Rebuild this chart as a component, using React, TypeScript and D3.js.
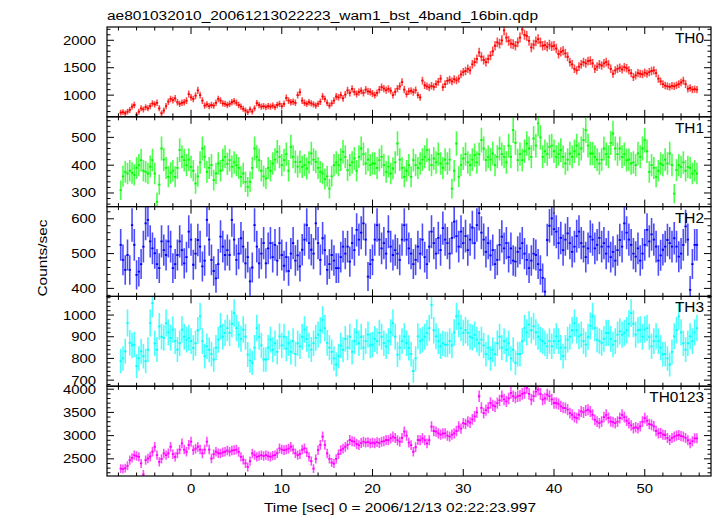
import React from 'react';
import * as d3 from 'd3';

// light curve bins: centre of first bin and bin width (sec)
const t0 = -7.75;
const binWidth = 0.25;

const th0 = [
  680, 690, 670, 700, 730, 790, 820, 640, 700, 760, 740, 780, 760, 800, 850, 830,
  860, 760, 670, 720, 800, 880, 930, 910, 940, 870, 840, 860, 870, 900, 1020, 960,
  930, 990, 1085, 1000, 900, 810, 830, 800, 820, 810, 860, 930, 900, 850, 840, 820,
  840, 870, 890, 860, 820, 790, 750, 720, 690, 740, 700, 760, 855, 820, 790, 800,
  780, 800, 790, 810, 780, 820, 840, 800, 840, 950, 900, 870, 880, 860, 1000, 1055,
  900, 860, 840, 870, 850, 830, 810, 840, 880, 975, 930, 860, 810, 850, 900, 975,
  960, 1000, 940, 1010, 1085, 1040, 1115, 1060, 1020, 1055, 1080, 1040, 1100, 1070, 1060, 1030,
  1000, 1040, 1100, 1145, 1120, 1090, 1115, 1080, 1000, 1060, 1120, 1160, 1236, 1100, 1020, 1070,
  1080, 1055, 1090, 1000, 960, 1266, 1180, 1160, 1140, 1170, 1150, 1200, 1240, 1300, 1145, 1200,
  1260, 1280, 1250, 1290, 1270, 1300, 1380, 1420, 1440, 1480, 1450, 1560, 1600, 1660, 1780, 1700,
  1640, 1600, 1660, 1720, 1800, 1900, 1960, 1940, 2000, 2180, 2050, 1990, 1940, 1930, 1900, 1960,
  2050, 2200, 2100, 2080, 1990, 1870, 1920, 1980, 2020, 1960, 1900, 1910, 1880, 1920, 1890, 1900,
  1850, 1750, 1790, 1810, 1760, 1700, 1600, 1560, 1480, 1450, 1520, 1560, 1600, 1580, 1620, 1630,
  1580, 1480, 1520, 1560, 1540, 1580, 1600, 1560, 1480, 1390, 1450, 1480, 1500, 1470, 1510, 1490,
  1450, 1400, 1330, 1360, 1400, 1390, 1380, 1410, 1390, 1420, 1440, 1450, 1400, 1300, 1250, 1200,
  1175, 1160, 1150, 1170, 1160, 1180, 1200, 1230, 1266, 1200, 1115, 1130, 1100, 1110, 1100,
];

const th1 = [
  310, 360, 376, 370, 380, 372, 365, 390, 400, 418, 380, 376, 370, 395, 418, 370,
  268, 330, 460, 420, 390, 358, 372, 380, 358, 390, 454, 430, 418, 400, 420, 394,
  380, 334, 360, 410, 460, 430, 376, 390, 400, 346, 370, 406, 380, 418, 430, 405,
  418, 395, 410, 400, 390, 358, 370, 340, 322, 340, 390, 460, 430, 418, 380, 360,
  352, 390, 380, 406, 420, 448, 430, 400, 418, 440, 380, 466, 430, 412, 395, 412,
  394, 400, 388, 410, 442, 420, 412, 390, 376, 370, 350, 360, 316, 360, 400, 410,
  400, 420, 448, 430, 382, 400, 410, 424, 380, 430, 460, 440, 406, 420, 400, 406,
  406, 390, 418, 430, 400, 376, 395, 370, 388, 410, 478, 420, 390, 358, 380, 400,
  358, 418, 400, 390, 406, 420, 430, 454, 420, 400, 424, 410, 440, 406, 390, 420,
  406, 420, 316, 380, 478, 358, 400, 424, 440, 410, 400, 420, 436, 410, 440, 490,
  460, 418, 430, 420, 442, 400, 430, 460, 440, 430, 410, 470, 430, 526, 480, 418,
  440, 418, 450, 478, 460, 430, 496, 470, 550, 500, 430, 450, 440, 466, 470, 450,
  430, 440, 454, 430, 406, 420, 442, 430, 450, 470, 440, 460, 490, 526, 470, 442,
  442, 430, 420, 406, 420, 460, 440, 430, 480, 514, 460, 440, 460, 430, 440, 418,
  420, 406, 410, 400, 442, 430, 460, 490, 450, 376, 400, 390, 358, 380, 406, 400,
  420, 406, 442, 400, 298, 382, 400, 394, 410, 380, 394, 390, 370, 380, 370,
];

const th2 = [
  525, 482, 453, 496, 453, 582, 525, 439, 448, 470, 520, 587, 597, 535, 515, 501,
  470, 458, 535, 510, 496, 535, 520, 458, 470, 496, 535, 510, 472, 490, 563, 540,
  468, 500, 539, 520, 463, 480, 597, 540, 482, 450, 429, 470, 549, 520, 496, 510,
  496, 597, 540, 482, 500, 544, 520, 472, 490, 420, 460, 582, 520, 472, 500, 530,
  472, 515, 530, 490, 525, 480, 530, 496, 465, 490, 450, 500, 530, 480, 495, 463,
  511, 540, 582, 530, 511, 500, 587, 530, 482, 544, 510, 453, 470, 496, 480, 458,
  458, 490, 520, 500, 520, 477, 530, 510, 568, 540, 560, 587, 540, 434, 470, 482,
  540, 582, 540, 515, 530, 500, 563, 520, 496, 510, 500, 482, 540, 582, 540, 515,
  500, 470, 482, 520, 500, 540, 490, 470, 520, 563, 530, 500, 545, 510, 573, 540,
  530, 500, 545, 592, 550, 520, 563, 530, 550, 510, 540, 575, 530, 582, 616, 560,
  540, 505, 530, 495, 510, 470, 482, 525, 549, 515, 530, 490, 515, 480, 477, 505,
  515, 530, 500, 482, 458, 480, 500, 496, 470, 453, 430, 391, 539, 580, 601, 570,
  563, 530, 545, 510, 540, 558, 530, 505, 520, 550, 563, 530, 520, 490, 515, 549,
  540, 515, 525, 545, 520, 530, 500, 520, 490, 505, 480, 510, 539, 520, 587, 560,
  540, 525, 500, 491, 515, 480, 500, 525, 568, 535, 555, 540, 520, 480, 495, 511,
  520, 539, 530, 520, 544, 520, 491, 500, 525, 578, 540, 396, 470, 525, 525,
];

const th3 = [
  788, 800, 833, 963, 872, 860, 864, 765, 800, 833, 810, 788, 840, 963, 1055, 870,
  841, 948, 900, 895, 963, 920, 895, 933, 880, 841, 870, 933, 900, 887, 895, 880,
  849, 870, 930, 994, 880, 811, 856, 840, 820, 795, 850, 887, 948, 900, 918, 940,
  918, 960, 1009, 940, 910, 890, 933, 900, 818, 790, 780, 850, 940, 900, 860, 795,
  795, 850, 887, 840, 870, 830, 902, 860, 900, 845, 870, 830, 880, 820, 870, 856,
  900, 933, 890, 860, 841, 870, 895, 910, 930, 978, 940, 872, 850, 830, 800, 772,
  811, 860, 840, 890, 850, 900, 830, 880, 920, 870, 900, 850, 880, 910, 860, 864,
  890, 880, 918, 900, 870, 856, 880, 920, 963, 900, 818, 850, 880, 902, 870, 849,
  820, 742, 800, 902, 880, 887, 900, 918, 940, 1047, 930, 902, 880, 856, 870, 864,
  864, 880, 860, 920, 994, 960, 940, 918, 930, 918, 900, 895, 910, 887, 870, 887,
  860, 820, 850, 800, 840, 820, 870, 900, 850, 880, 840, 870, 800, 840, 780, 820,
  820, 880, 940, 920, 956, 930, 948, 920, 900, 887, 880, 870, 856, 880, 856, 880,
  902, 880, 850, 811, 850, 887, 900, 930, 963, 930, 902, 910, 880, 864, 900, 950,
  994, 940, 887, 880, 872, 890, 918, 918, 890, 864, 880, 910, 925, 910, 918, 930,
  960, 1009, 960, 910, 930, 933, 900, 933, 940, 900, 856, 880, 902, 880, 850, 820,
  820, 800, 772, 830, 902, 930, 994, 920, 870, 841, 870, 902, 880, 920, 940,
];

const th0123 = [
  2290, 2280, 2300, 2350, 2470, 2520, 2580, 2560, 2543, 2400, 2167, 2470, 2507, 2550, 2652, 2760,
  2580, 2435, 2500, 2616, 2580, 2620, 2760, 2600, 2543, 2616, 2700, 2833, 2700, 2652, 2800, 2870,
  2688, 2720, 2760, 2700, 2616, 2700, 2870, 2700, 2507, 2600, 2652, 2620, 2616, 2640, 2652, 2680,
  2652, 2680, 2688, 2700, 2650, 2543, 2480, 2400, 2326, 2450, 2616, 2580, 2543, 2560, 2580, 2560,
  2580, 2560, 2543, 2570, 2580, 2620, 2724, 2700, 2688, 2700, 2720, 2760, 2700, 2620, 2580, 2600,
  2700, 2724, 2640, 2543, 2450, 2290, 2500, 2688, 2800, 2978, 2800, 2616, 2500, 2420, 2398, 2500,
  2600, 2688, 2720, 2760, 2800, 2906, 2880, 2870, 2820, 2797, 2840, 2870, 2850, 2860, 2833, 2850,
  2833, 2860, 2840, 2870, 2880, 2906, 2900, 2940, 2978, 2950, 2900, 2870, 2950, 3087, 3000, 2850,
  2797, 2652, 2750, 2906, 2900, 2942, 2900, 2833, 2900, 3195, 3100, 3087, 3050, 3020, 3050, 3050,
  3000, 2978, 3020, 3050, 3100, 3195, 3150, 3268, 3250, 3304, 3280, 3350, 3413, 3500, 3848, 3600,
  3485, 3550, 3600, 3703, 3650, 3630, 3700, 3760, 3848, 3780, 3739, 3800, 3920, 3850, 3820, 3848,
  3860, 3900, 3920, 4030, 3900, 3775, 3850, 3950, 3992, 3900, 3775, 3800, 3884, 3850, 3780, 3703,
  3703, 3680, 3630, 3600, 3594, 3560, 3485, 3450, 3400, 3377, 3450, 3522, 3500, 3540, 3558, 3520,
  3450, 3340, 3300, 3268, 3300, 3400, 3449, 3380, 3304, 3290, 3268, 3300, 3380, 3449, 3400, 3320,
  3268, 3220, 3159, 3180, 3159, 3200, 3300, 3377, 3320, 3250, 3232, 3200, 3100, 3050, 3060, 3020,
  3014, 2950, 2906, 2950, 2978, 3000, 3014, 2990, 2978, 2950, 2900, 2833, 2880, 2942, 2942,
];

const bandNames = ['TH0', 'TH1', 'TH2', 'TH3', 'TH0123'];
const bandColors = ['#ff0000', '#00ff00', '#0000ff', '#00ffff', '#ff00ff'];
const yTickLabels = [
  [1000, 1500, 2000],
  [300, 400, 500],
  [400, 500, 600],
  [700, 800, 900, 1000],
  [2500, 3000, 3500, 4000],
];
const yRanges = [
  [605, 2242],
  [251, 574],
  [377, 635],
  [672, 1086],
  [2130, 4065],
];
const yMinorStep = [100, 20, 20, 20, 100];
const xTickLabels = [0, 10, 20, 30, 40, 50];

const title = 'ae801032010_20061213022223_wam1_bst_4band_16bin.qdp';
const xTitle = 'Time [sec] 0 = 2006/12/13 02:22:23.997';
const yTitle = 'Counts/sec';

const W = 717;
const H = 516;
const left = 107;
const right = 711;
const top = 27;
const bottom = 476;
const font = "'Liberation Sans', Arial, Helvetica, sans-serif";

const x = d3.scaleLinear().domain([-9.26, 57.3]).range([left, right]);

function Panel({ idx, values }: { idx: number; values: number[] }) {
  const ph = (bottom - top) / bandNames.length;
  const y0 = top + idx * ph;
  const y = d3.scaleLinear().domain(yRanges[idx]).range([y0 + ph, y0]);
  const color = bandColors[idx];
  const isLast = idx === bandNames.length - 1;

  let errPath = '';
  let binPath = '';
  values.forEach((v, i) => {
    const t = t0 + i * binWidth;
    const e = Math.sqrt(v / binWidth);
    errPath += `M${x(t)},${y(v - e)}V${y(v + e)}`;
    binPath += `M${x(t - binWidth / 2)},${y(v)}H${x(t + binWidth / 2)}`;
  });

  const [lo, hi] = yRanges[idx];
  const step = yMinorStep[idx];
  const yMinor = d3.range(Math.ceil(lo / step) * step, hi, step).filter(v => !yTickLabels[idx].includes(v));
  const xMinor = d3.range(-8, 57, 2).filter(v => v % 10 !== 0);
  const clipId = `clip${idx}`;

  return (
    <g>
      <defs>
        <clipPath id={clipId}>
          <rect x={left} y={y0} width={right - left} height={ph} />
        </clipPath>
      </defs>
      <g clipPath={`url(#${clipId})`}>
        <path d={errPath} stroke={color} strokeOpacity={0.7} strokeWidth={1.6} fill="none" />
        <path d={binPath} stroke={color} strokeWidth={1.8} fill="none" />
      </g>
      <rect x={left} y={y0} width={right - left} height={ph} fill="none" stroke="#000" strokeWidth={1.2} />
      {/* x ticks top & bottom */}
      {xTickLabels.map(v => (
        <g key={`xm${v}`} stroke="#000" strokeWidth={1}>
          <line x1={x(v)} x2={x(v)} y1={y0} y2={y0 + 7} />
          <line x1={x(v)} x2={x(v)} y1={y0 + ph} y2={y0 + ph - 7} />
        </g>
      ))}
      {xMinor.map(v => (
        <g key={`xn${v}`} stroke="#000" strokeWidth={1}>
          <line x1={x(v)} x2={x(v)} y1={y0} y2={y0 + 3.5} />
          <line x1={x(v)} x2={x(v)} y1={y0 + ph} y2={y0 + ph - 3.5} />
        </g>
      ))}
      {/* y ticks left & right */}
      {yTickLabels[idx].map(v => (
        <g key={`ym${v}`}>
          <line x1={left} x2={left + 7} y1={y(v)} y2={y(v)} stroke="#000" />
          <line x1={right} x2={right - 7} y1={y(v)} y2={y(v)} stroke="#000" />
          <text
            transform={`translate(96,${y(v) + 4.5}) scale(1.24,1)`}
            textAnchor="end"
            fontSize={12}
            fontFamily={font}
          >
            {v}
          </text>
        </g>
      ))}
      {yMinor.map(v => (
        <g key={`yn${v}`} stroke="#000">
          <line x1={left} x2={left + 3.5} y1={y(v)} y2={y(v)} />
          <line x1={right} x2={right - 3.5} y1={y(v)} y2={y(v)} />
        </g>
      ))}
      <text
        transform={`translate(704,${y0 + 16}) scale(1.1,1)`}
        textAnchor="end"
        fontSize={14}
        fontFamily={font}
      >
        {bandNames[idx]}
      </text>
      {isLast &&
        xTickLabels.map(v => (
          <text
            key={`xl${v}`}
            transform={`translate(${x(v)},493) scale(1.24,1)`}
            textAnchor="middle"
            fontSize={12}
            fontFamily={font}
          >
            {v}
          </text>
        ))}
    </g>
  );
}

export default function App() {
  const series = [th0, th1, th2, th3, th0123];
  return (
    <svg
      width={W}
      height={H}
      style={{ position: 'absolute', left: 0, top: 0, background: '#fff' }}
    >
      <rect width={W} height={H} fill="#fff" />
      <text x={107} y={19.5} fontSize={12} fontFamily={font} textLength={431} lengthAdjust="spacingAndGlyphs">
        {title}
      </text>
      {series.map((s, i) => (
        <Panel key={bandNames[i]} idx={i} values={s} />
      ))}
      <text
        transform="translate(47,258) rotate(-90)"
        textAnchor="middle"
        fontSize={12}
        fontFamily={font}
        textLength={77}
        lengthAdjust="spacingAndGlyphs"
      >
        {yTitle}
      </text>
      <text
        x={400}
        y={512}
        textAnchor="middle"
        fontSize={12}
        fontFamily={font}
        textLength={272}
        lengthAdjust="spacingAndGlyphs"
      >
        {xTitle}
      </text>
    </svg>
  );
}
